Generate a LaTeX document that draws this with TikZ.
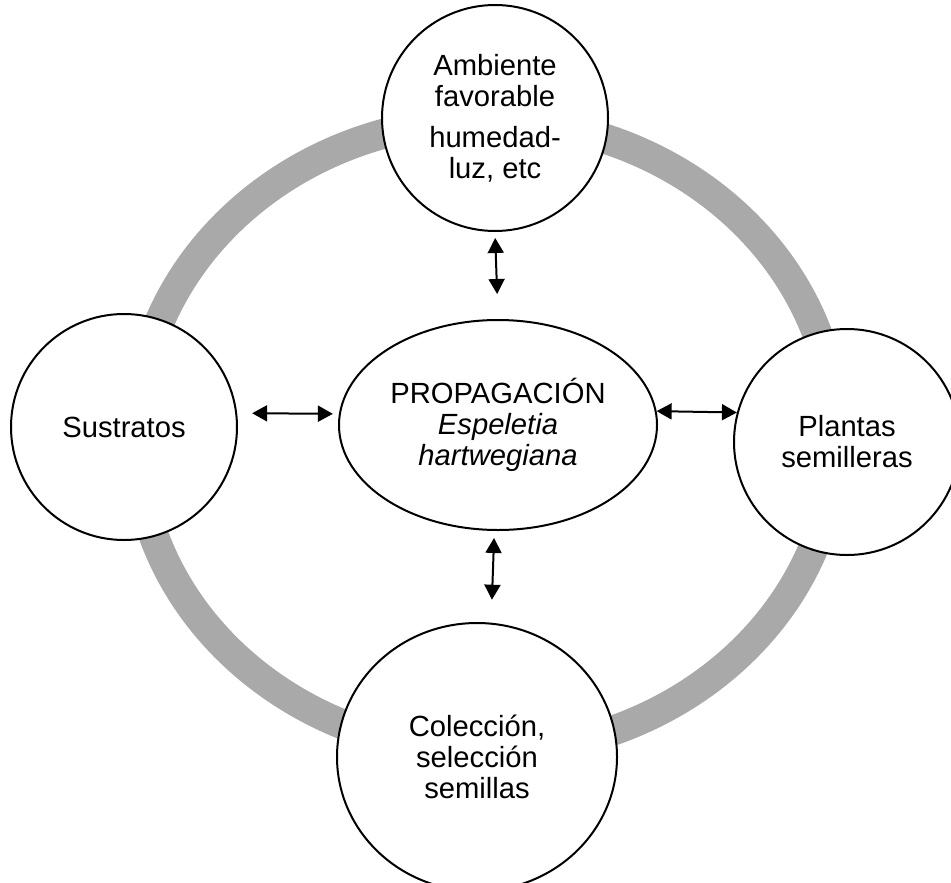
\documentclass[tikz,border=0pt]{standalone}
\usepackage{fontspec}
\setmainfont{Liberation Sans}
\usetikzlibrary{shapes.geometric,arrows.meta}
\definecolor{ringgray}{RGB}{169,169,169}
\begin{document}
\begin{tikzpicture}[x=0.5pt, y=-0.5pt,
  font=\fontsize{14.6}{15.5}\selectfont,
  stage/.style={circle, draw, line width=1pt, fill=white, minimum size=113pt, inner sep=0pt, align=center},
  hub/.style={ellipse, draw, line width=1pt, fill=white, inner sep=0pt, align=center},
  link/.style={{Triangle[length=7.5pt,width=8pt]}-{Triangle[length=7.5pt,width=8pt]}, line width=1pt}]
\useasboundingbox (0,0) rectangle (951,882);

% Gray ring behind the stages
\draw[ringgray, line width=15pt] (486,436) ellipse [x radius=175pt, y radius=158pt];

% Stages of the cycle
\node[stage] (amb) at (495,118) {Ambiente\\favorable\\[5pt]humedad-\\luz, etc};
\node[stage] (sus) at (124,427) {Sustratos};
\node[stage] (pla) at (847,442) {Plantas\\semilleras};
\node[hub, minimum width=140pt, minimum height=134pt] (col) at (477,757) {Colección,\\selección\\semillas};

% Centre
\node[hub, minimum width=159pt, minimum height=105pt] (prop) at (498,425)
  {PROPAGACIÓN\\\textit{Espeletia}\\\textit{hartwegiana}};

% Arrows
\draw[link, shorten <=3pt, shorten >=12.5pt] (amb.south) -- (prop.north);
\draw[link, shorten <=7.5pt, shorten >=3pt] (sus.7) -- (prop.176);
\draw[link] (prop.5) -- (pla.165);
\draw[link, shorten <=3.5pt, shorten >=11.5pt] (prop.268) -- (col.84);

\end{tikzpicture}
\end{document}
